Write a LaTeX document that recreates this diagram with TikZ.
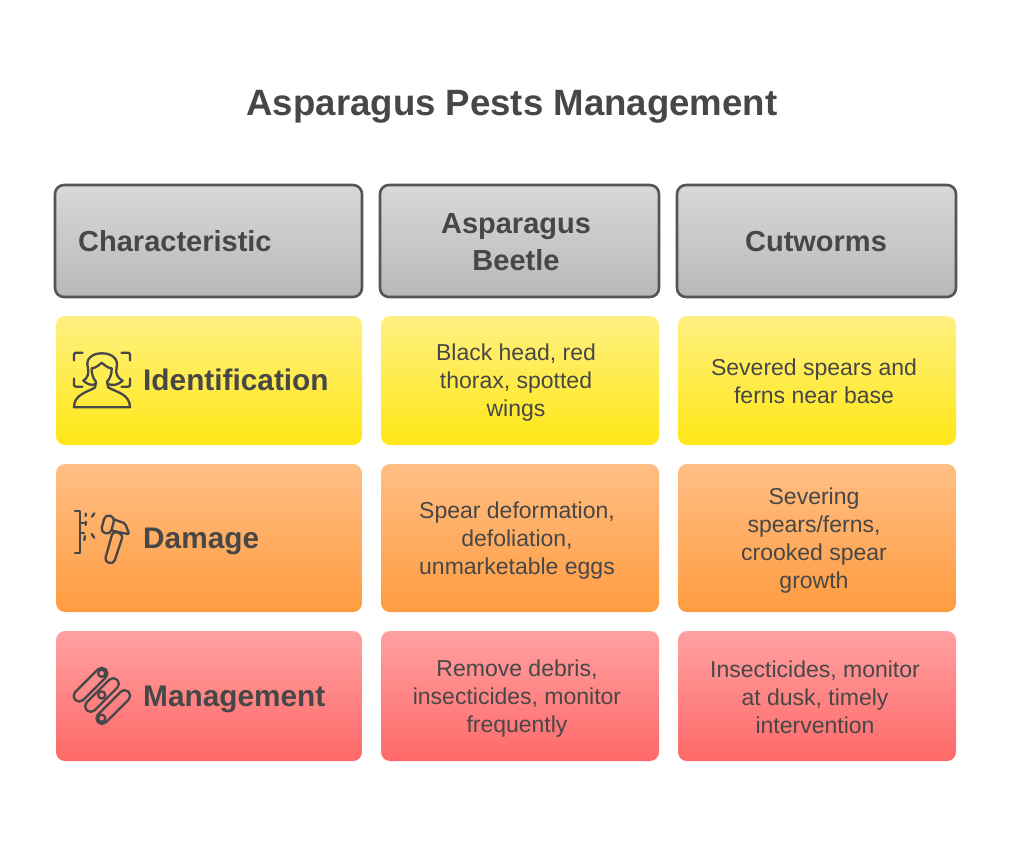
\documentclass[tikz,border=0pt]{standalone}
\usepackage{fontspec}
\setmainfont{Liberation Sans}
\definecolor{ink}{HTML}{474747}
\definecolor{edge}{HTML}{555555}
\definecolor{rowyt}{HTML}{FFF081}
\definecolor{rowyb}{HTML}{FFE716}
\definecolor{rowot}{HTML}{FFBE84}
\definecolor{rowob}{HTML}{FF9C40}
\definecolor{rowrt}{HTML}{FFA0A0}
\definecolor{rowrb}{HTML}{FF6969}
\tikzset{
	headbox/.style={draw=edge, line width=2.6pt, rounded corners=9pt, top color=black!15, bottom color=black!28, inner sep=0pt},
	rowbox/.style={rounded corners=9pt, inner sep=0pt},
	headtext/.style={text=ink, font=\fontsize{29}{37}\selectfont\bfseries, align=center, inner sep=0pt},
	sidetext/.style={text=ink, font=\fontsize{29.8}{37}\selectfont\bfseries, inner sep=0pt},
	celltext/.style={text=ink, font=\fontsize{23}{28}\selectfont, align=center, inner sep=0pt},
	iconline/.style={draw=ink, line width=2.3pt, fill=none, line join=round, line cap=round},
}
\begin{document}
\begin{tikzpicture}[x=1pt, y=-1pt, line join=round, line cap=round]
	\useasboundingbox (0,0) rectangle (1024,863);
	\node[text=ink, font=\fontsize{36.6}{40}\selectfont\bfseries, inner sep=0pt] (title) at (512,106.5) {Asparagus Pests Management};

	\node[headbox, minimum width=307pt, minimum height=112pt] (headA) at (208.5,241) {};
	\node[headbox, minimum width=279pt, minimum height=112pt] (headB) at (519.5,241) {};
	\node[headbox, minimum width=279pt, minimum height=112pt] (headC) at (816.5,241) {};
	\node[headtext, anchor=west] (headAtext) at (78,241) {Characteristic};
	\node[headtext] (headBtext) at (516,242.5) {Asparagus\\Beetle};
	\node[headtext] (headCtext) at (816,242) {Cutworms};

	\node[rowbox, top color=rowyt, bottom color=rowyb, minimum width=306pt, minimum height=129pt] (idA) at (209,380.5) {};
	\node[rowbox, top color=rowyt, bottom color=rowyb, minimum width=278pt, minimum height=129pt] (idB) at (520,380.5) {};
	\node[rowbox, top color=rowyt, bottom color=rowyb, minimum width=278pt, minimum height=129pt] (idC) at (817,380.5) {};
	\node[rowbox, top color=rowot, bottom color=rowob, minimum width=306pt, minimum height=148pt] (dmA) at (209,538) {};
	\node[rowbox, top color=rowot, bottom color=rowob, minimum width=278pt, minimum height=148pt] (dmB) at (520,538) {};
	\node[rowbox, top color=rowot, bottom color=rowob, minimum width=278pt, minimum height=148pt] (dmC) at (817,538) {};
	\node[rowbox, top color=rowrt, bottom color=rowrb, minimum width=306pt, minimum height=130pt] (mgA) at (209,696) {};
	\node[rowbox, top color=rowrt, bottom color=rowrb, minimum width=278pt, minimum height=130pt] (mgB) at (520,696) {};
	\node[rowbox, top color=rowrt, bottom color=rowrb, minimum width=278pt, minimum height=130pt] (mgC) at (817,696) {};

	\node[sidetext, anchor=west] (idtext) at (143,380) {Identification};
	\node[sidetext, anchor=west] (dmtext) at (143,541) {Damage};
	\node[sidetext, anchor=west] (mgtext) at (143,699) {Management};

	\node[celltext] (idBtext) at (516,383) {Black head, red\\thorax, spotted\\wings};
	\node[celltext] (idCtext) at (814,381) {Severed spears and\\ferns near base};
	\node[celltext] (dmBtext) at (517,541) {Spear deformation,\\defoliation,\\unmarketable eggs};
	\node[celltext] (dmCtext) at (814,541) {Severing\\spears/ferns,\\crooked spear\\growth};
	\node[celltext] (mgBtext) at (517,699) {Remove debris,\\insecticides, monitor\\frequently};
	\node[celltext] (mgCtext) at (815,697) {Insecticides, monitor\\at dusk, timely\\intervention};

	\draw[iconline, rounded corners=2pt] (74,360.5) -- (74,352.7) -- (82.5,352.7);
	\draw[iconline, rounded corners=2pt] (121.5,352.7) -- (130,352.7) -- (130,360.5);
	\draw[iconline, rounded corners=2pt] (74,378.5) -- (74,386.7) -- (82.5,386.7);
	\draw[iconline, rounded corners=2pt] (130,378.5) -- (130,386.7) -- (121.5,386.7);
	\draw[iconline] (96,384) .. controls (91,386) and (87,384) .. (83.3,380.7) .. controls (88,378) and (89,373) .. (88,368) .. controls (85,359) and (92,353.3) .. (102,353.3) .. controls (112,353.3) and (119,359) .. (116.5,368) .. controls (115.5,373) and (117,378) .. (122.7,380.7) .. controls (118,385) and (113,386) .. (108,384);
	\draw[iconline] (91.7,368.3) .. controls (96,368) and (99,365) .. (101.7,362.7) .. controls (104.5,365) and (107.5,368) .. (111.7,368.3) .. controls (112,373) and (110,379) .. (107,381.7) -- (108.3,387.5) .. controls (116,392) and (130,394) .. (130,407.3) -- (74,407.3) .. controls (74,394) and (88,392) .. (95,387.5) -- (96,381.7) .. controls (93,379) and (91.5,373) .. (91.7,368.3);

	\draw[iconline] (75,511) -- (80,511) -- (80,552.7) -- (75,552.7);
	\draw[iconline] (80,523) -- (84,523) (80,533) -- (84,533);
	\draw[iconline] (85.7,513.5) -- (85.7,516) (85.7,521.7) -- (85.7,525) (85,536) -- (84.3,540);
	\draw[iconline] (94.3,513.3) -- (92,516.7) (91.7,534) -- (94.3,537.7);
	\draw[iconline, rounded corners=4.5pt, shift={(107.8,524.5)}, rotate=75] (-9,-5) rectangle (9,5);
	\draw[iconline, rounded corners=1.5pt] (113.5,519.3) -- (125,523.3) -- (129.3,534.3) -- (112.5,530.7);
	\draw[iconline, rounded corners=4pt] (113,531) -- (123.3,534.5) -- (113.5,564) -- (104.5,561.5) -- cycle;

	\draw[iconline, rounded corners=5.4pt, shift={(90.5,684.7)}, rotate=45] (-21.5,-5.6) rectangle (21.5,5.6);
	\draw[iconline] (101.7,673.3) circle[radius=3.6pt];
	\draw[iconline, rounded corners=5.4pt, shift={(102,695)}, rotate=45] (-21.5,-5.6) rectangle (21.5,5.6);
	\draw[iconline] (101.7,695) circle[radius=3.6pt];
	\draw[iconline, rounded corners=5.4pt, shift={(113.3,707)}, rotate=45] (-21.5,-5.6) rectangle (21.5,5.6);
	\draw[iconline] (101.7,718.3) circle[radius=3.6pt];
\end{tikzpicture}
\end{document}
